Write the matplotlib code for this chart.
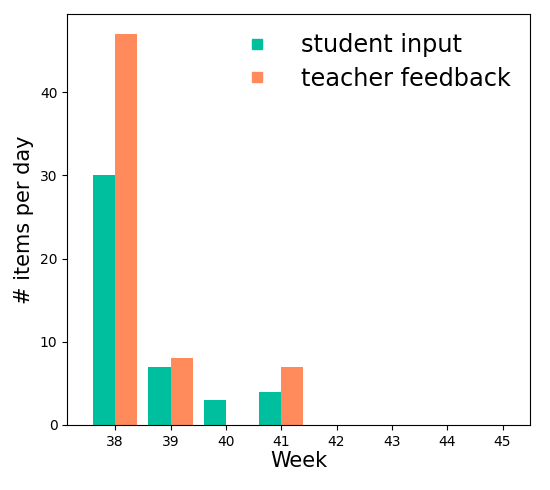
import numpy as np
import matplotlib
matplotlib.use("Agg")
import matplotlib.pyplot as plt
from matplotlib.lines import Line2D

weeks = [38, 39, 40, 41, 42, 43, 44, 45]
student_input = [30, 7, 3, 4, 0, 0, 0, 0]
teacher_feedback = [47, 8, 0, 7, 0, 0, 0, 0]

teal = "#00BF9F"
orange = "#FF8A5B"

fig = plt.figure(figsize=(5.5, 4.9), dpi=100)
ax = fig.add_axes([0.122, 0.133, 0.842, 0.838])

x = np.array(weeks)
w = 0.4
ax.bar(x - w / 2, student_input, width=w, color=teal)
ax.bar(x + w / 2, teacher_feedback, width=w, color=orange)

ax.set_xticks(weeks)
ax.set_xlim(37.13, 45.5)
ax.set_ylim(0, 49.4)
ax.set_yticks([0, 10, 20, 30, 40])
ax.tick_params(labelsize=10)
ax.set_xlabel("Week", fontsize=15, labelpad=2)
ax.set_ylabel("# items per day", fontsize=15)

handles = [
    Line2D([], [], marker="s", linestyle="none", color=teal, markersize=7),
    Line2D([], [], marker="s", linestyle="none", color=orange, markersize=7),
]
ax.legend(handles, ["student input", "teacher feedback"], loc="upper right",
          frameon=False, fontsize=17.3, handletextpad=0.83, labelspacing=0.39,
          borderaxespad=0.4)

fig.savefig("out.png", dpi=100)
